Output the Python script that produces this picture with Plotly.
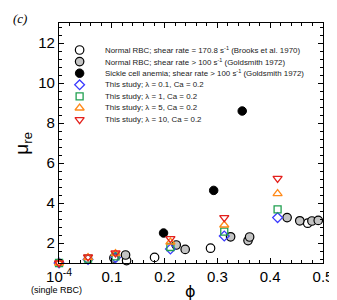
import plotly.graph_objects as go

# ---------------- data ----------------
brooks_phi = [0.104, 0.128, 0.181, 0.287, 0.471]
brooks_mu = [1.25, 1.12, 1.28, 1.74, 2.99]

gold_phi = [0.126, 0.222, 0.239, 0.325, 0.358, 0.361, 0.432, 0.456, 0.479, 0.491]
gold_mu = [1.40, 1.90, 1.68, 2.31, 2.12, 2.30, 3.27, 3.11, 3.10, 3.13]

sickle_phi = [0.198, 0.293, 0.347]
sickle_mu = [2.50, 4.63, 8.60]

study_phi = [0.0001, 0.055, 0.107, 0.211, 0.313, 0.414]
lam01_mu = [1.0, 1.18, 1.27, 1.70, 2.35, 3.27]
lam1_mu = [1.0, 1.22, 1.33, 1.80, 2.57, 3.68]
lam5_mu = [1.0, 1.27, 1.47, 2.05, 2.90, 4.47]
lam10_mu = [1.0, 1.30, 1.50, 2.22, 3.27, 5.23]

x_tickvals = [0.0001, 0.1, 0.2, 0.3, 0.4, 0.5]
x_ticktext = ["10<sup>-4</sup>", "0.1", "0.2", "0.3", "0.4", "0.5"]
y_tickvals = [2, 4, 6, 8, 10, 12]

labels = [
    "Normal RBC; shear rate = 170.8 s<sup>-1</sup> (Brooks et al. 1970)",
    "Normal RBC; shear rate > 100 s<sup>-1</sup> (Goldsmith 1972)",
    "Sickle cell anemia; shear rate > 100 s<sup>-1</sup> (Goldsmith 1972)",
    "This study; λ = 0.1, Ca = 0.2",
    "This study; λ = 1, Ca = 0.2",
    "This study; λ = 5, Ca = 0.2",
    "This study; λ = 10, Ca = 0.2",
]

# ---------------- styles ----------------
BLUE = "#3a3aff"
GREEN = "#20a050"
ORANGE = "#ff8a1a"
RED = "#e3201c"

styles = [
    dict(symbol="circle", size=8.5, color="white", line=dict(color="black", width=1.2)),
    dict(symbol="circle", size=8.5, color="#c4c4c4", line=dict(color="black", width=1.2)),
    dict(symbol="circle", size=8.5, color="black", line=dict(color="black", width=1)),
    dict(symbol="diamond-open", size=7.5, color=BLUE, line=dict(color=BLUE, width=1.3)),
    dict(symbol="square-open", size=7, color=GREEN, line=dict(color=GREEN, width=1.3)),
    dict(symbol="triangle-up-open", size=8, color=ORANGE, line=dict(color=ORANGE, width=1.3)),
    dict(symbol="triangle-down-open", size=8, color=RED, line=dict(color=RED, width=1.3)),
]

series = [
    (brooks_phi, brooks_mu),
    (gold_phi, gold_mu),
    (sickle_phi, sickle_mu),
    (study_phi, lam01_mu),
    (study_phi, lam1_mu),
    (study_phi, lam5_mu),
    (study_phi, lam10_mu),
]

W, H = 337, 300
ML, MR, MT, MB = 51, 17, 15, 45
PW, PH = W - ML - MR, H - MT - MB

fig = go.Figure()
for (xs, ys), st, lab in zip(series, styles, labels):
    fig.add_trace(go.Scatter(x=xs, y=ys, mode="markers", marker=st,
                             cliponaxis=False, showlegend=False, name=lab))

# ---------------- custom legend ----------------
leg_mx = (72 - ML) / PW
leg_tx = (96 - ML) / PW
row0, rowgap = 42.0, 11.6
leg_y = [(H - MB - (row0 + i * rowgap)) / PH for i in range(len(labels))]
for i, (st, lab) in enumerate(zip(styles, labels)):
    fig.add_trace(go.Scatter(x=[leg_mx], y=[leg_y[i]], xaxis="x2", yaxis="y2",
                             mode="markers", marker=st, showlegend=False,
                             hoverinfo="skip", cliponaxis=False))
    fig.add_annotation(x=leg_tx, y=leg_y[i], xref="paper", yref="paper",
                       text=lab, showarrow=False, xanchor="left", yanchor="middle",
                       font=dict(family="Liberation Sans, Arial", size=7.9, color="#222"))

axis_common = dict(
    showline=True, linecolor="black", linewidth=1.3, mirror="allticks",
    ticks="inside", ticklen=5, tickwidth=1, tickcolor="black",
    showgrid=False, zeroline=False,
    tickfont=dict(family="Liberation Sans, Arial", size=15, color="black"),
)

fig.update_layout(
    width=W, height=H,
    margin=dict(l=ML, r=MR, t=MT, b=MB),
    paper_bgcolor="white", plot_bgcolor="white",
    xaxis=dict(range=[0, 0.5], tickmode="array", tickvals=x_tickvals, ticktext=x_ticktext,
               minor=dict(dtick=0.02, tick0=0, ticklen=3, ticks="inside", tickcolor="black", tickwidth=1),
               **axis_common),
    yaxis=dict(range=[1, 13], tickmode="array", tickvals=y_tickvals,
               minor=dict(dtick=0.4, tick0=0, ticklen=3, ticks="inside", tickcolor="black", tickwidth=1),
               **axis_common),
    xaxis2=dict(range=[0, 1], overlaying="x", visible=False, fixedrange=True),
    yaxis2=dict(range=[0, 1], overlaying="y", visible=False, fixedrange=True),
    showlegend=False,
)

# axis titles and labels
fig.add_annotation(x=(185 - ML) / PW, y=(H - MB - 283) / PH, xref="paper", yref="paper",
                   text="ϕ", showarrow=False, xanchor="center", yanchor="middle",
                   font=dict(family="DejaVu Sans", size=16, color="black"))
fig.add_annotation(x=(14 - ML) / PW, y=(H - MB - 135) / PH, xref="paper", yref="paper",
                   text="μ<sub>re</sub>", showarrow=False, textangle=-90,
                   xanchor="center", yanchor="middle",
                   font=dict(family="Liberation Sans, Arial", size=19, color="black"))
fig.add_annotation(x=(48 - ML) / PW, y=(H - MB - 282) / PH, xref="paper", yref="paper",
                   text="(single RBC)", showarrow=False, xanchor="center", yanchor="middle",
                   font=dict(family="Liberation Sans, Arial", size=9, color="black"))
fig.add_annotation(x=(2 - ML) / PW, y=(H - MB - 1) / PH, xref="paper", yref="paper",
                   text="<i>(c)</i>", showarrow=False, xanchor="left", yanchor="top",
                   font=dict(family="Liberation Serif, Times New Roman", size=13, color="black"))

fig.write_html("out.html")
